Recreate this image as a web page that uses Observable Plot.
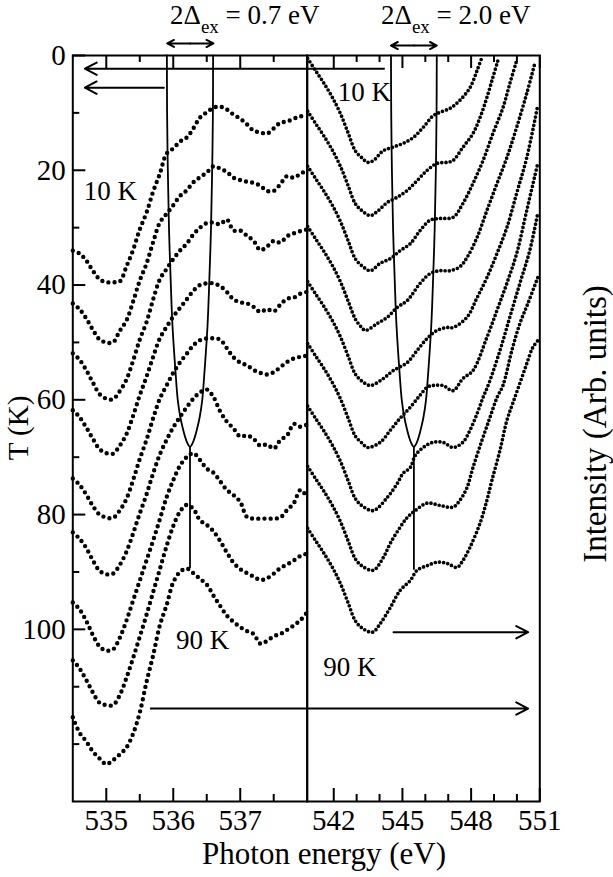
<!DOCTYPE html>
<html><head><meta charset="utf-8">
<script src="https://cdn.jsdelivr.net/npm/d3@7"></script>
<script src="https://cdn.jsdelivr.net/npm/@observablehq/plot@0.6"></script>
<style>
body{margin:0;background:#fff;}
#wrap{position:relative;width:613px;height:877px;font-family:"Liberation Serif","Times New Roman","DejaVu Serif",serif;color:#000;overflow:hidden;}
#wrap svg{position:absolute;left:0;top:0;}
.lbl{position:absolute;white-space:nowrap;line-height:1;}
.rot{transform:translate(-50%,-50%) rotate(-90deg);}
</style></head><body>
<div id="wrap"></div>
<script>
// ---------- data ----------
const leftE = [534.5,534.6,534.7,534.8,534.9,535.0,535.1,535.2,535.3,535.4,535.5,535.6,535.7,535.8,535.9,536.0,536.1,536.2,536.3,536.4,536.5,536.6,536.7,536.8,536.9,537.0,537.1,537.2,537.3,537.4,537.5,537.6,537.7,537.8,537.9,538.0];
const L10 = [34.0,34.5,35.7,37.5,39.0,39.5,39.5,39.4,36.8,33.9,30.3,27.4,23.7,20.6,17.1,16.2,15.0,14.3,12.7,10.8,9.9,9.1,8.9,9.4,10.3,11.0,12.0,13.1,13.4,13.6,12.7,11.7,11.5,11.0,10.6,10.5];
const L20 = [43.2,44.2,45.8,47.8,49.5,50.0,50.0,48.0,46.2,42.9,39.2,36.3,32.5,29.1,27.6,26.1,24.5,23.5,22.1,21.2,20.4,19.3,19.7,20.3,21.3,21.7,22.0,22.2,22.7,23.6,23.6,22.4,21.0,21.3,20.6,20.0];
const L30 = [51.9,53.0,54.8,57.0,59.0,59.8,59.9,58.5,56.5,53.2,49.5,46.5,42.5,39.0,37.2,35.5,34.0,32.8,31.2,30.0,29.2,29.1,29.4,28.6,30.5,30.5,31.4,32.3,33.9,33.3,32.3,32.6,31.5,31.0,30.6,30.3];
const L40 = [61.8,63.0,64.8,66.8,68.6,69.3,69.4,68.0,66.0,62.8,59.2,56.0,52.5,49.3,47.3,45.5,44.0,42.5,41.0,40.0,39.7,39.7,40.2,41.2,42.5,43.0,43.2,43.8,44.7,44.2,44.6,43.4,42.4,42.2,41.5,41.2];
const L50 = [73.7,74.8,76.5,78.5,80.0,80.5,80.6,79.3,77.3,74.0,70.3,67.0,63.2,59.8,57.5,55.3,53.5,52.0,50.5,49.6,49.3,49.3,49.5,51.0,52.6,53.5,54.0,54.8,55.3,55.6,55.2,54.3,53.4,52.8,52.5,52.3];
const L60 = [83.1,84.2,85.8,88.0,89.8,90.4,90.3,88.8,86.5,83.3,79.8,76.5,72.8,69.5,67.0,64.8,63.0,61.3,59.8,58.7,58.2,59.5,62.0,63.8,65.0,66.4,66.2,66.8,68.0,67.8,68.5,67.0,66.2,64.2,64.7,64.3];
const L70 = [95.3,96.5,98.5,101.0,103.0,103.7,103.5,101.5,98.5,95.0,91.5,88.0,84.5,80.8,77.0,74.0,71.5,70.0,69.3,70.5,72.0,72.7,74.2,75.7,76.6,77.8,80.4,80.7,80.7,80.7,80.7,80.5,79.2,78.0,75.7,77.0];
const L80 = [105.4,106.8,108.8,111.0,112.8,113.2,113.2,111.5,108.5,105.0,101.3,97.5,93.5,89.5,85.5,82.0,79.5,78.3,79.0,81.0,81.8,82.9,84.6,86.6,88.4,89.5,90.2,90.8,91.4,91.1,90.3,89.3,88.7,88.0,87.2,86.8];
const L90 = [115.3,118.0,119.5,121.3,122.5,123.5,122.8,121.8,120.6,118.2,114.5,109.2,104.5,99.3,95.8,91.8,90.0,89.4,90.2,91.2,92.2,94.1,95.9,97.6,98.7,99.6,100.3,100.8,102.5,102.0,101.2,100.8,100.1,99.3,98.4,97.0];
const leftSeries = [L10,L20,L30,L40,L50,L60,L70,L80,L90];

const R10 = [[540.86,0.5],[541.20,2.6],[541.55,4.7],[541.94,7.3],[542.29,10.1],[542.64,13.6],[542.94,16.6],[543.25,17.9],[543.47,18.6],[543.73,18.3],[544.16,16.6],[544.56,16.0],[545.03,15.3],[545.47,14.3],[545.91,12.5],[546.34,10.5],[546.64,9.9],[547.08,9.2],[547.51,7.8],[547.95,5.6],[548.26,2.6],[548.47,0.35]];
const R20 = [[540.86,9.7],[541.20,11.8],[541.55,13.9],[541.94,16.5],[542.29,19.3],[542.64,22.8],[542.94,25.8],[543.25,27.1],[543.60,27.9],[543.95,27.0],[544.34,25.6],[544.77,24.7],[545.21,23.5],[545.64,21.8],[546.08,20.0],[546.51,18.8],[546.95,18.6],[547.21,18.3],[547.64,16.0],[548.08,13.6],[548.39,10.8],[548.69,7.3],[548.95,3.8],[549.17,0.87]];
const R30 = [[540.86,19.3],[541.20,21.4],[541.55,23.5],[541.94,26.1],[542.29,28.9],[542.64,32.4],[542.94,35.4],[543.25,36.7],[543.60,37.5],[544.03,36.2],[544.47,35.4],[544.90,34.0],[545.34,32.8],[545.77,30.5],[546.21,28.7],[546.64,28.4],[547.21,28.2],[547.64,25.8],[548.08,22.3],[548.52,18.3],[548.95,13.6],[549.39,9.1],[549.69,4.9],[549.99,0.87]];
const R40 = [[540.86,29.8],[541.20,31.9],[541.55,34.0],[541.94,36.6],[542.29,39.4],[542.64,42.9],[542.94,45.9],[543.20,47.3],[543.38,47.9],[543.90,46.7],[544.34,45.6],[544.77,43.9],[545.21,42.7],[545.77,39.7],[546.21,38.0],[546.64,37.5],[547.08,37.5],[547.51,36.8],[547.82,35.2],[548.26,31.7],[548.69,27.0],[549.13,22.3],[549.56,17.8],[549.99,12.5],[550.43,6.6],[550.78,1.4]];
const R50 = [[540.86,39.4],[541.20,41.5],[541.55,43.6],[541.94,46.2],[542.29,49.0],[542.64,52.5],[542.94,55.5],[543.25,56.8],[543.60,57.5],[544.16,56.3],[544.60,54.9],[545.21,53.5],[545.64,51.4],[546.08,49.3],[546.51,47.9],[546.95,47.4],[547.21,47.4],[547.82,45.6],[548.26,42.2],[548.69,38.7],[549.13,34.5],[549.56,30.0],[549.99,24.0],[550.43,17.8],[550.91,8.7]];
const R60 = [[540.86,50.2],[541.20,52.3],[541.55,54.4],[541.94,57.0],[542.29,59.8],[542.64,63.3],[542.94,66.3],[543.25,67.6],[543.47,68.3],[544.03,67.4],[544.47,65.3],[544.90,63.2],[545.34,61.3],[545.77,59.2],[546.08,57.8],[546.34,57.5],[546.77,57.5],[547.21,58.4],[547.64,56.3],[548.08,54.9],[548.69,49.1],[549.13,44.4],[549.56,39.7],[549.99,34.5],[550.43,27.0],[550.91,18.8]];
const R70 = [[540.86,61.1],[541.20,63.2],[541.55,65.3],[541.94,67.9],[542.29,70.7],[542.64,74.2],[542.94,77.2],[543.25,78.5],[543.73,79.3],[544.34,77.0],[544.77,74.6],[545.03,72.8],[545.34,71.8],[545.56,69.7],[545.91,68.3],[546.34,67.4],[546.77,67.4],[547.21,68.3],[547.64,67.4],[547.95,65.3],[548.26,62.4],[548.52,59.6],[548.78,57.1],[549.26,51.4],[549.69,45.6],[550.13,39.7],[550.56,34.0],[550.91,27.5]];
const R80 = [[540.86,71.6],[541.20,73.7],[541.55,75.8],[541.94,78.4],[542.29,81.2],[542.64,84.7],[542.94,87.7],[543.25,89.0],[543.73,89.7],[544.16,87.5],[544.47,85.0],[544.90,82.2],[545.21,80.5],[545.56,79.3],[546.08,78.0],[546.64,78.4],[547.21,78.7],[547.51,77.5],[547.82,75.3],[548.08,71.8],[548.47,67.1],[548.82,63.1],[549.13,59.6],[549.39,57.5],[549.78,51.4],[550.13,46.7],[550.48,43.2],[550.91,38.7]];
const R90 = [[540.86,82.4],[541.20,84.5],[541.55,86.6],[541.94,89.2],[542.29,92.0],[542.64,95.5],[542.94,98.5],[543.25,99.8],[543.69,100.5],[544.03,99.0],[544.47,96.2],[544.90,93.2],[545.34,91.5],[545.64,89.7],[546.08,88.9],[546.51,88.3],[546.95,88.5],[547.38,89.2],[547.64,88.0],[547.95,85.7],[548.39,81.5],[548.69,77.5],[548.91,74.0],[549.26,68.8],[549.56,63.6],[549.82,60.6],[550.13,57.1],[550.43,53.7],[550.69,50.9],[550.91,49.7]];
const rightSeries = [R10,R20,R30,R40,R50,R60,R70,R80,R90];

// exchange-gap curves (T in K, half width in eV)
const gapT = [0,10,20,30,40,47,55,60,63,65,66.5,67.5,68.2];
const leftGapHalf = [0.345,0.342,0.331,0.314,0.286,0.262,0.217,0.183,0.145,0.107,0.072,0.041,0];
const rightGapHalf = [1.0,0.99,0.96,0.91,0.83,0.76,0.63,0.53,0.42,0.31,0.21,0.12,0];
const leftGapCenter = 536.25, rightGapCenter = 545.5;
const leftStem = [68.2, 89.4], rightStem = [68.2, 89.7];

// axes
const leftMajor = [535,536,537], leftMinor = [535.5,536.5,537.5];
const rightMajor = [542,545,548,551], rightMinor = [543,544,546,547,549,550];
const yMajor = [0,20,40,60,80,100], yMinor = [10,30,50,70,90,110,120];

// annotations
const leftArrows = [{x1:538.0,y1:2.3,x2:534.68,y2:2.3},{x1:535.86,y1:5.6,x2:534.68,y2:5.6}];
const leftRules = [{y:113.8,x1:535.66,x2:538.0}];
const rightArrows = [{x1:544.61,y1:100.5,x2:550.49,y2:100.5},{x1:540.84,y1:113.8,x2:550.49,y2:113.8}];
const rightRules = [{y:2.3,x1:540.84,x2:544.25}];
const leftGapArrows = [{x1:536.25,x2:535.91,y:-2.1},{x1:536.25,x2:536.60,y:-2.1}];
const rightGapArrows = [{x1:545.5,x2:544.5,y:-1.74},{x1:545.5,x2:546.5,y:-1.74}];
const leftLabels = [{x:535.06,y:23.7,t:"10 K"},{x:536.44,y:101.9,t:"90 K"}];
const rightLabels = [{x:543.34,y:6.4,t:"10 K"},{x:542.7,y:106.6,t:"90 K"}];

// ---------- layout ----------
const W = 613, H = 877, mT = 55, mB = 76;
const frameH = H - mT - mB;
const xL = 72.3, xM = 306.7, xR = 539.3;
const FONT = "'Liberation Serif','Times New Roman','DejaVu Serif',serif";

function gapLine(center, half) {
  const pts = gapT.map((t,i) => ({x: center - half[i], y: t}));
  for (let i = gapT.length - 2; i >= 0; i--) pts.push({x: center + half[i], y: gapT[i]});
  return pts;
}

function panel(cfg) {
  const pw = cfg.x1 - cfg.x0;
  const marks = [
    Plot.frame({stroke:"#000", strokeWidth:2}),
    Plot.tickX(cfg.major, {x:d=>d, insetTop: frameH-13, strokeWidth:2}),
    Plot.tickX(cfg.major, {x:d=>d, insetBottom: frameH-13, strokeWidth:2}),
    Plot.tickX(cfg.minor, {x:d=>d, insetTop: frameH-7, strokeWidth:2}),
    Plot.tickX(cfg.minor, {x:d=>d, insetBottom: frameH-7, strokeWidth:2}),
    Plot.axisX(cfg.major, {anchor:"bottom", tickSize:0, tickPadding:8, fontSize:29, label:null, tickFormat:d=>String(d)}),
  ];
  if (cfg.yaxis) {
    marks.push(
      Plot.tickY(yMajor, {y:d=>d, insetRight: pw-13, strokeWidth:2}),
      Plot.tickY(yMinor, {y:d=>d, insetRight: pw-7, strokeWidth:2}),
      Plot.axisY(yMajor, {anchor:"left", tickSize:0, tickPadding:7, fontSize:29, label:null, tickFormat:d=>String(d)})
    );
  }
  for (const s of cfg.series) {
    marks.push(Plot.line(s, {x:cfg.xa, y:cfg.ya, curve:"catmull-rom", stroke:"#000",
      strokeWidth:cfg.dotW, strokeDasharray:cfg.dash, strokeLinecap:"round"}));
  }
  marks.push(
    Plot.line(gapLine(cfg.center, cfg.half), {x:"x", y:"y", curve:"catmull-rom", stroke:"#000", strokeWidth:1.8}),
    Plot.ruleX([cfg.center], {x:d=>d, y1:cfg.stem[0], y2:cfg.stem[1], strokeWidth:1.8}),
    Plot.arrow(cfg.arrows, {x1:"x1", y1:"y1", x2:"x2", y2:"y2", stroke:"#000", strokeWidth:2, headLength:10, headAngle:55}),
    Plot.ruleY(cfg.rules, {y:"y", x1:"x1", x2:"x2", stroke:"#000", strokeWidth:2}),
    Plot.arrow(cfg.gapArrows, {x1:"x1", y1:"y", x2:"x2", y2:"y", stroke:"#000", strokeWidth:2, headLength:9, headAngle:55}),
    Plot.text(cfg.labels, {x:"x", y:"y", text:"t", fontSize:27, fill:"#000"})
  );
  return Plot.plot({
    width: W, height: H,
    marginLeft: cfg.x0, marginRight: W - cfg.x1, marginTop: mT, marginBottom: mB,
    x: {domain: cfg.domain, axis: null},
    y: {domain: [0, 130], reverse: true, axis: null},
    style: {background:"transparent", overflow:"visible", fontFamily:FONT, color:"#000"},
    marks
  });
}

const wrap = document.getElementById("wrap");
wrap.appendChild(panel({
  x0: xL, x1: xM, domain: [534.5, 538.0], major: leftMajor, minor: leftMinor, yaxis: true,
  series: leftSeries.map(s => s.map((t,i) => [leftE[i], t])), xa: d=>d[0], ya: d=>d[1],
  dotW: 4.4, dash: "0 6.2",
  center: leftGapCenter, half: leftGapHalf, stem: leftStem,
  arrows: leftArrows, rules: leftRules, gapArrows: leftGapArrows, labels: leftLabels
}));
wrap.appendChild(panel({
  x0: xM, x1: xR, domain: [540.84, 551], major: rightMajor, minor: rightMinor, yaxis: false,
  series: rightSeries, xa: d=>d[0], ya: d=>d[1],
  dotW: 3.7, dash: "0 4.2",
  center: rightGapCenter, half: rightGapHalf, stem: rightStem,
  arrows: rightArrows, rules: rightRules, gapArrows: rightGapArrows, labels: rightLabels
}));

function addLabel(html, css, cls) {
  const d = document.createElement("div");
  d.className = "lbl" + (cls ? " " + cls : "");
  d.innerHTML = html;
  Object.assign(d.style, css);
  wrap.appendChild(d);
}
const sub = '<span style="font-size:19px;position:relative;top:9px">ex</span>';
addLabel("2Δ" + sub + " = 0.7 eV", {left:"170px", top:"2px", fontSize:"27px"});
addLabel("2Δ" + sub + " = 2.0 eV", {left:"381px", top:"2px", fontSize:"27px"});
addLabel("Photon energy (eV)", {left:"124px", width:"400px", textAlign:"center", top:"838px", fontSize:"31px"});
addLabel("T (K)", {left:"18px", top:"428px", fontSize:"29px", padding:"0 2px"}, "rot");
addLabel("Intensity (Arb. units)", {left:"595px", top:"424px", fontSize:"33px"}, "rot");
</script>
</body></html>
